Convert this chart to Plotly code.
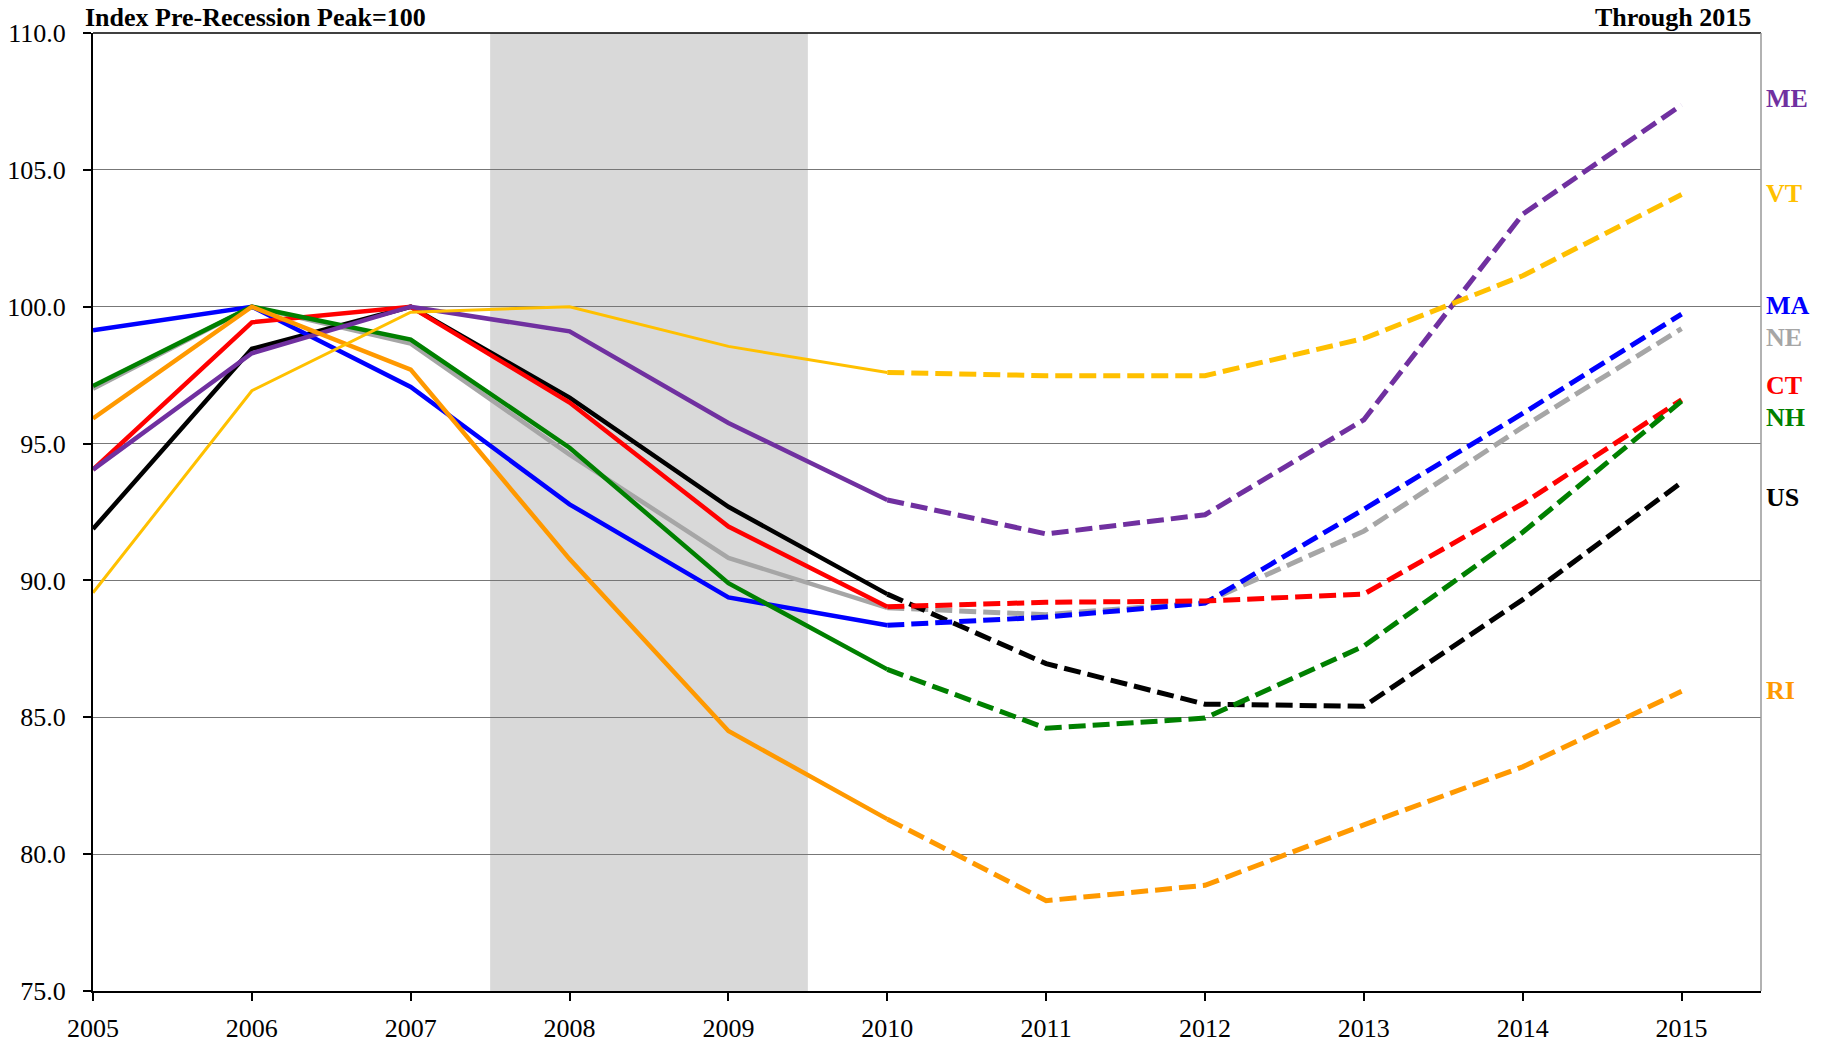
import plotly.graph_objects as go

years = [2005, 2006, 2007, 2008, 2009, 2010, 2011, 2012, 2013, 2014, 2015]
last_actual_index = 5  # 2010: solid through here, dashed afterwards

NE = [97.0, 100.0, 98.65, 94.6, 90.82, 89.0, 88.75, 89.2, 91.8, 95.6, 99.2]
US = [91.88, 98.46, 100.0, 96.68, 92.69, 89.5, 86.96, 85.48, 85.4, 89.3, 93.58]
MA = [99.14, 100.0, 97.07, 92.78, 89.38, 88.36, 88.66, 89.17, 92.6, 96.1, 99.73]
CT = [94.05, 99.43, 100.0, 96.5, 91.97, 89.04, 89.2, 89.25, 89.5, 92.8, 96.6]
NH = [97.1, 100.0, 98.8, 94.85, 89.9, 86.75, 84.6, 84.97, 87.6, 91.76, 96.55]
ME = [94.05, 98.3, 100.0, 99.1, 95.75, 92.94, 91.7, 92.4, 95.87, 103.38, 107.37]
RI = [95.92, 100.0, 97.7, 90.78, 84.5, 81.28, 78.3, 78.86, 81.07, 83.19, 85.95]
VT = [89.55, 96.93, 99.8, 100.0, 98.55, 97.6, 97.48, 97.48, 98.84, 101.13, 104.1]

series_names = ["NE", "US", "MA", "CT", "NH", "ME", "RI", "VT"]
series_values = [NE, US, MA, CT, NH, ME, RI, VT]
series_colors = ["#A6A6A6", "#000000", "#0000FF", "#FF0000", "#008000", "#7030A0", "#FF9900", "#FFC000"]
solid_widths = [4.5, 4.5, 4.5, 4.5, 4.5, 4.5, 4.5, 3]

# Right-side label positions (index units)
label_names = ["ME", "VT", "MA", "NE", "CT", "NH", "US", "RI"]
label_colors = ["#7030A0", "#FFC000", "#0000FF", "#A6A6A6", "#FF0000", "#008000", "#000000", "#FF9900"]
label_y = [107.62, 104.15, 100.03, 98.88, 97.14, 95.95, 93.03, 85.99]

recession_start, recession_end = 2007.5, 2009.5
y_ticks = [75, 80, 85, 90, 95, 100, 105, 110]

FONT = "Liberation Serif, Times New Roman, serif"
FS = 26

fig = go.Figure()

for name, vals, col, w in zip(series_names, series_values, series_colors, solid_widths):
    k = last_actual_index
    fig.add_trace(go.Scatter(x=years[:k + 1], y=vals[:k + 1], mode="lines", name=name,
                             line=dict(color=col, width=w), showlegend=False, hoverinfo="x+y+name"))
    fig.add_trace(go.Scatter(x=years[k:], y=vals[k:], mode="lines", name=name,
                             line=dict(color=col, width=5, dash="17px,7px"),
                             showlegend=False, hoverinfo="x+y+name"))

# recession shading
fig.add_shape(type="rect", xref="x", yref="paper", x0=recession_start, x1=recession_end,
              y0=0, y1=1, fillcolor="#D9D9D9", line=dict(width=0), layer="below")
# top border
fig.add_shape(type="line", xref="paper", yref="paper", x0=0, x1=1, y0=1, y1=1,
              line=dict(color="#000000", width=1.5))
# right border
fig.add_shape(type="line", xref="paper", yref="paper", x0=1, x1=1, y0=0, y1=1,
              line=dict(color="#999999", width=1.5))

for nm, col, yy in zip(label_names, label_colors, label_y):
    fig.add_annotation(x=1, xref="paper", xanchor="left", xshift=3, y=yy, yref="y",
                       text=f"<b>{nm}</b>", showarrow=False,
                       font=dict(family=FONT, size=FS, color=col))

fig.add_annotation(x=0, xref="paper", xanchor="left", xshift=-10, y=1, yref="paper",
                   yanchor="bottom", yshift=-1, text="<b>Index Pre-Recession Peak=100</b>",
                   showarrow=False, font=dict(family=FONT, size=FS, color="#000000"))
fig.add_annotation(x=1, xref="paper", xanchor="right", xshift=-8, y=1, yref="paper",
                   yanchor="bottom", yshift=-1, text="<b>Through 2015</b>",
                   showarrow=False, font=dict(family=FONT, size=FS, color="#000000"))

fig.update_layout(
    width=1821, height=1045,
    margin=dict(l=93, r=60, t=33, b=54),
    paper_bgcolor="white", plot_bgcolor="white",
    font=dict(family=FONT, size=FS, color="#000000"),
    showlegend=False,
    xaxis=dict(range=[2005, 2015.5], tickvals=years, ticktext=[str(y) for y in years],
               showgrid=False, zeroline=False, showline=True, linecolor="#000000", linewidth=2,
               ticks="outside", ticklen=8, tickcolor="#000000", tickwidth=1.5,
               ticklabelstandoff=5, automargin=False, tickfont=dict(family=FONT, size=FS)),
    yaxis=dict(range=[75, 110], tickvals=y_ticks, tickformat=".1f",
               showgrid=True, gridcolor="#777777", gridwidth=1, zeroline=False,
               showline=True, linecolor="#000000", linewidth=2,
               ticks="outside", ticklen=8, tickcolor="#000000", tickwidth=1.5,
               ticklabelstandoff=12, automargin=False, tickfont=dict(family=FONT, size=FS)),
)

fig.write_html("out.html", config={"displayModeBar": False},
               post_script="document.body.style.margin='0';document.body.style.overflow='hidden';")
